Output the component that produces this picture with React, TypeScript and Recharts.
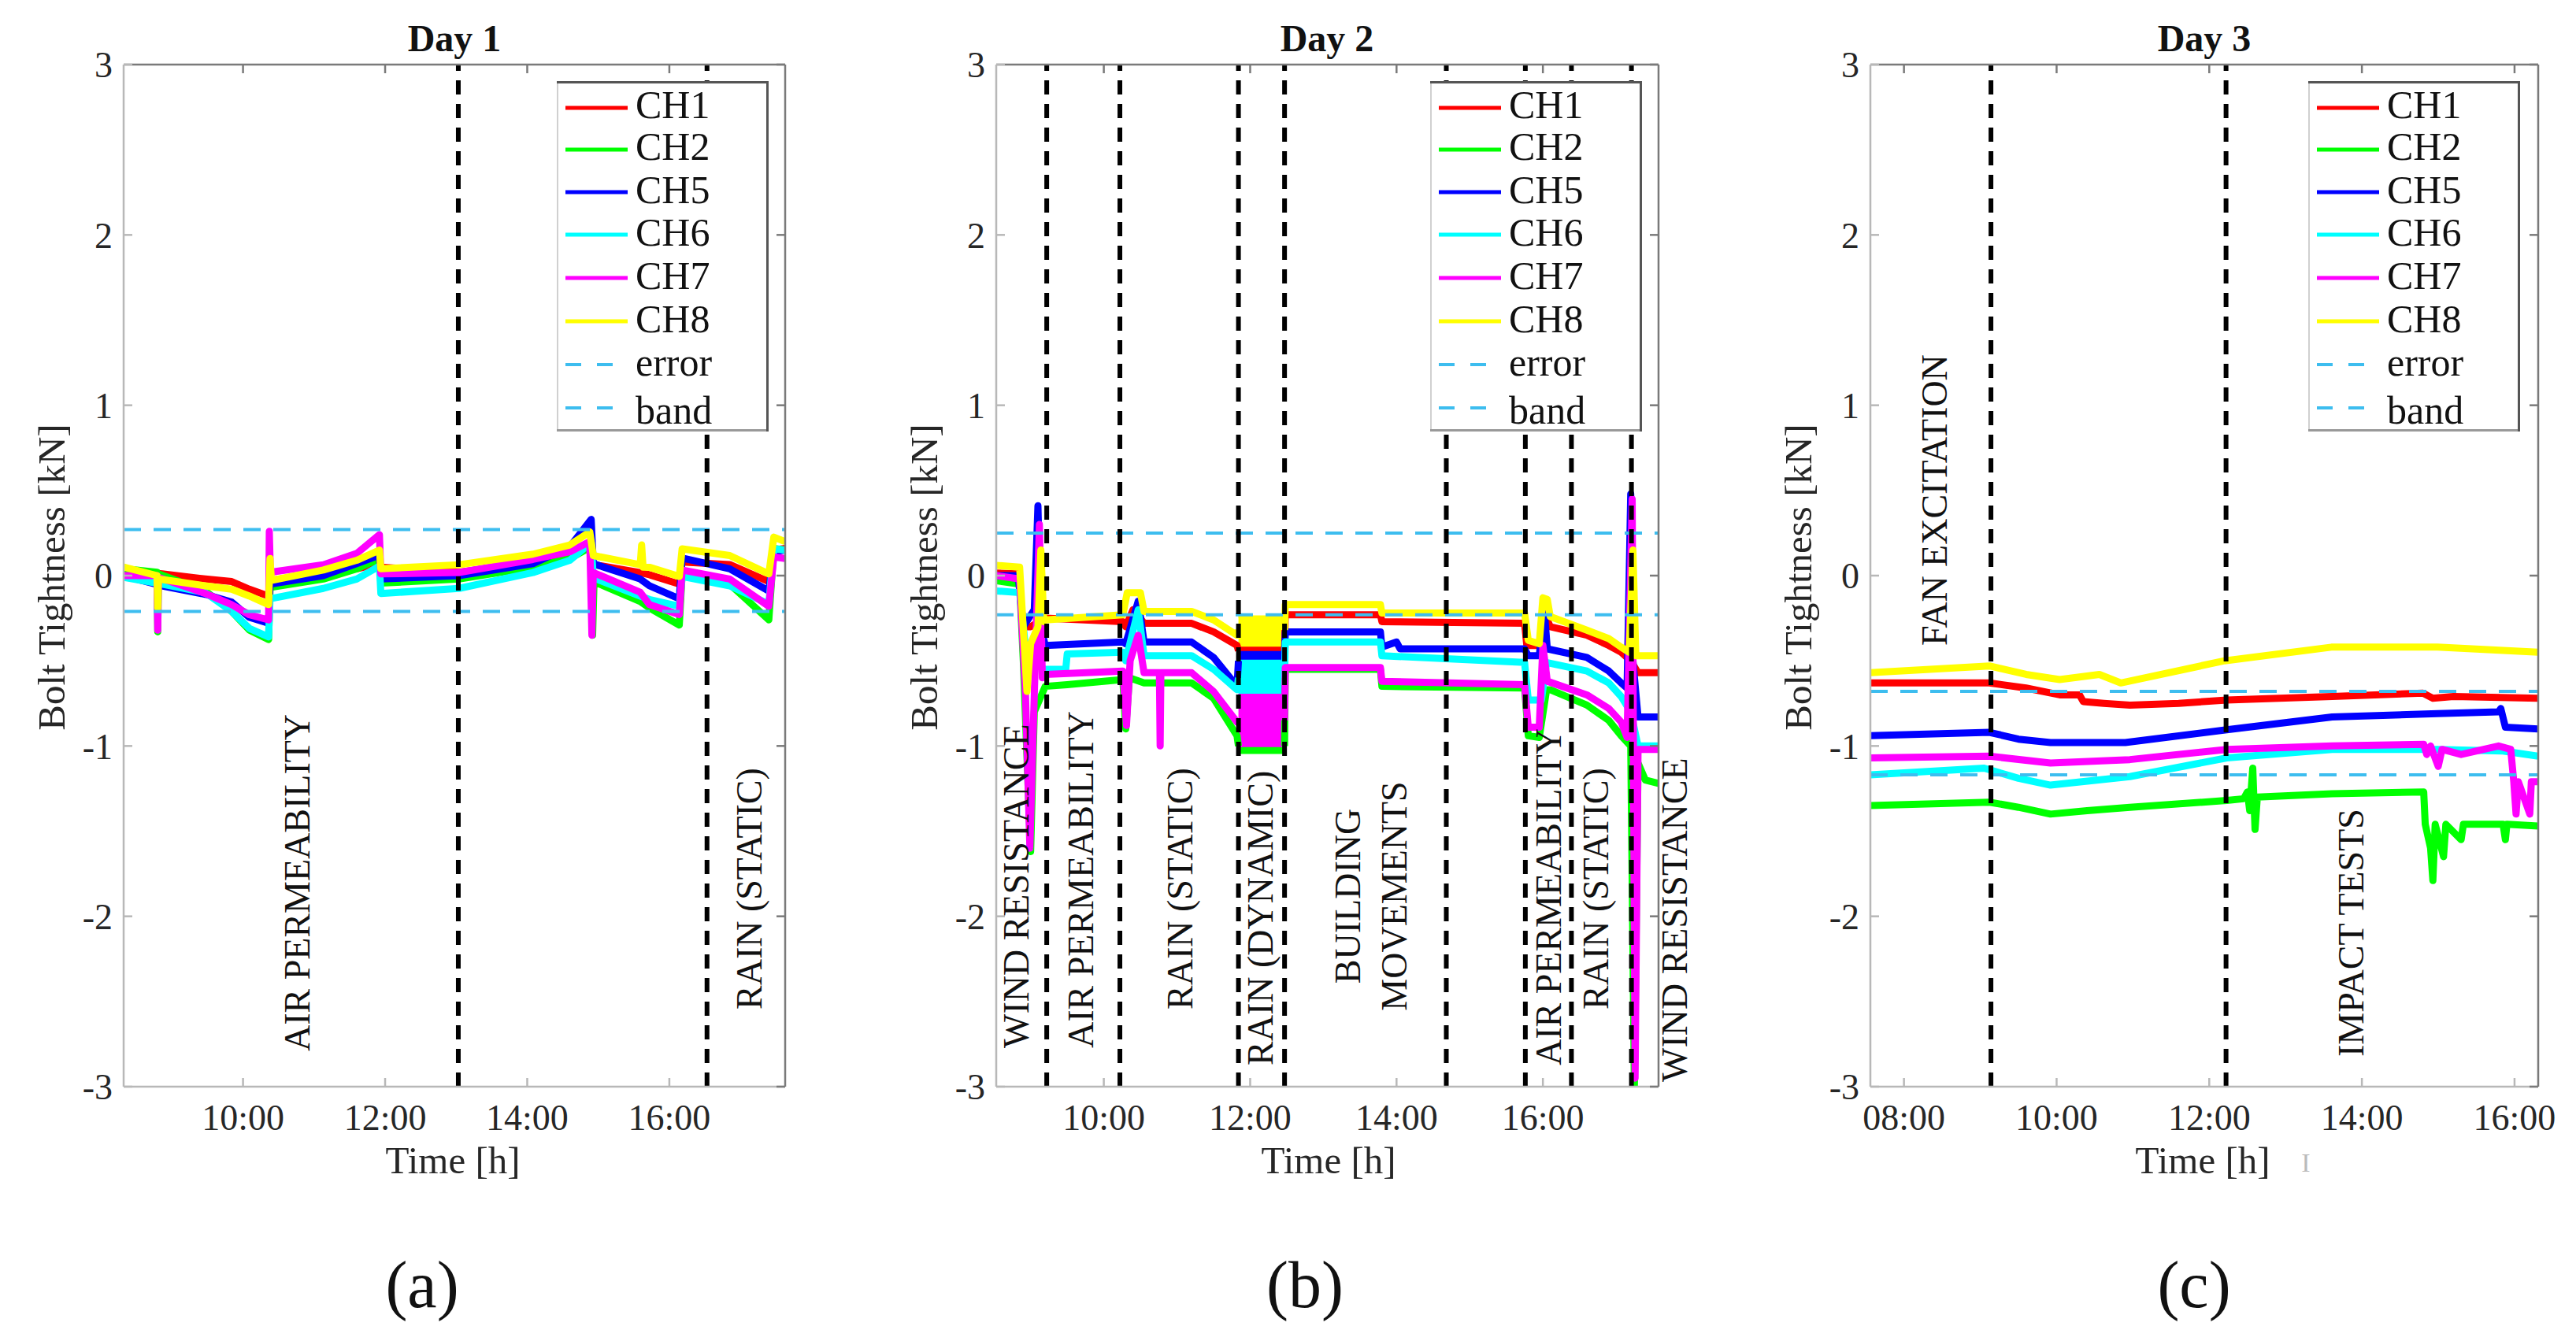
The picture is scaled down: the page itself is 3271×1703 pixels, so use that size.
import React from 'react';
import { ComposedChart, Line, Area, XAxis, YAxis, ReferenceLine, Legend } from 'recharts';

type P = [number, number | null];

const FONT = '"Liberation Serif", "DejaVu Serif", serif';

// ---------- labels ----------
const CHANNELS = ['CH1', 'CH2', 'CH5', 'CH6', 'CH7', 'CH8'];
const CH_COLORS = ['#FF0000', '#00FF00', '#0000FF', '#00FFFF', '#FF00FF', '#FFFF00'];
const BAND_LABELS = ['error', 'band'];
const Y_TICKS = [-3, -2, -1, 0, 1, 2, 3];
const DAY_TITLES = ['Day 1', 'Day 2', 'Day 3'];
const CAPTIONS = ['(a)', '(b)', '(c)'];
const Y_LABEL = 'Bolt Tightness [kN]';
const X_LABEL = 'Time [h]';

// ---------- Day 1 ----------
const DAY1_RANGE: [number, number] = [8.32, 17.63];
const DAY1_TICKS = [10, 12, 14, 16];
const DAY1_BAND = [0.27, -0.21];
const DAY1_MARKERS = [13.03, 16.53];
const d1CH1: P[] = [[8.32, 0.03], [8.86, 0.01], [9.47, -0.02], [9.84, -0.035], [10.09, -0.08], [10.36, -0.12], [10.38, -0.03], [11.13, 0.02], [11.6, 0.04], [11.92, 0.07], [11.94, 0.05], [13.04, 0.02], [14.08, 0.08], [14.6, 0.13], [14.9, 0.17], [14.93, 0.065], [15.59, 0.018], [15.72, 0.005], [16.14, -0.05], [16.18, 0.08], [16.85, 0.065], [17.4, -0.035], [17.47, 0.15], [17.63, 0.16]];
const d1CH2: P[] = [[8.32, 0.04], [8.79, 0.02], [8.8, -0.33], [8.81, 0.01], [9.47, -0.09], [9.84, -0.21], [10.09, -0.32], [10.36, -0.375], [10.38, -0.07], [11.13, -0.02], [11.6, 0.04], [11.92, 0.1], [11.94, -0.044], [13.04, -0.02], [14.08, 0.05], [14.6, 0.1], [14.9, 0.17], [14.92, -0.35], [14.94, -0.036], [15.59, -0.152], [15.72, -0.19], [16.14, -0.29], [16.18, 0.01], [16.85, -0.05], [17.4, -0.26], [17.47, 0.16], [17.63, 0.15]];
const d1CH5: P[] = [[8.32, 0.0], [8.86, -0.06], [9.47, -0.11], [9.84, -0.155], [10.09, -0.245], [10.36, -0.28], [10.38, -0.05], [11.13, 0.0], [11.6, 0.07], [11.92, 0.12], [11.94, -0.02], [13.04, 0.0], [14.08, 0.07], [14.6, 0.17], [14.9, 0.33], [14.93, 0.07], [15.59, -0.02], [15.72, -0.06], [16.14, -0.136], [16.18, 0.103], [16.85, 0.04], [17.4, -0.09], [17.47, 0.14], [17.63, 0.15]];
const d1CH6: P[] = [[8.32, -0.01], [8.86, -0.05], [9.47, -0.1], [9.84, -0.21], [10.09, -0.31], [10.36, -0.36], [10.38, -0.136], [11.13, -0.075], [11.6, -0.02], [11.92, 0.056], [11.94, -0.105], [13.04, -0.075], [14.08, 0.018], [14.6, 0.09], [14.9, 0.195], [14.93, -0.013], [15.59, -0.12], [15.72, -0.14], [16.14, -0.18], [16.18, -0.005], [16.85, -0.06], [17.4, -0.167], [17.47, 0.157], [17.63, 0.15]];
const d1CH7: P[] = [[8.32, 0.0], [8.79, 0.0], [8.8, -0.32], [8.81, -0.01], [9.47, -0.105], [9.84, -0.17], [10.09, -0.23], [10.36, -0.26], [10.37, 0.26], [10.385, 0.02], [11.13, 0.064], [11.6, 0.13], [11.92, 0.24], [11.94, 0.01], [13.04, 0.018], [14.08, 0.095], [14.6, 0.14], [14.88, 0.2], [14.91, -0.35], [14.93, 0.018], [15.59, -0.098], [15.72, -0.17], [16.14, -0.229], [16.18, 0.033], [16.85, -0.02], [17.4, -0.18], [17.47, 0.11], [17.63, 0.1]];
const d1CH8: P[] = [[8.32, 0.05], [8.79, 0.0], [8.8, -0.19], [8.81, -0.02], [9.47, -0.06], [9.84, -0.08], [10.09, -0.12], [10.36, -0.17], [10.38, 0.1], [10.4, -0.028], [11.13, 0.033], [11.6, 0.09], [11.92, 0.15], [11.94, 0.04], [13.04, 0.064], [14.08, 0.126], [14.6, 0.18], [14.88, 0.257], [14.93, 0.118], [15.59, 0.064], [15.61, 0.18], [15.63, 0.05], [15.72, 0.049], [16.14, -0.005], [16.18, 0.157], [16.85, 0.118], [17.4, 0.01], [17.47, 0.226], [17.63, 0.2]];

// ---------- Day 2 ----------
const DAY2_RANGE: [number, number] = [8.53, 17.58];
const DAY2_TICKS = [10, 12, 14, 16];
const DAY2_BAND = [0.25, -0.23];
const DAY2_MARKERS = [9.22, 10.22, 11.84, 12.47, 14.68, 15.76, 16.39, 17.21];
const d2CH1: P[] = [[8.53, 0.015], [8.83, 0.01], [8.9, -0.3], [9.0, -0.3], [9.2, -0.25], [10.26, -0.27], [10.3, -0.3], [10.4, -0.2], [10.5, -0.25], [10.55, -0.28], [11.2, -0.28], [11.5, -0.33], [11.82, -0.41], [11.84, -0.44], [12.0, null], [12.47, -0.44], [12.48, -0.23], [13.78, -0.23], [13.8, -0.27], [15.75, -0.28], [15.78, -0.41], [15.95, -0.41], [16.05, -0.25], [16.1, -0.3], [16.6, -0.35], [16.9, -0.41], [17.07, -0.45], [17.2, -0.5], [17.3, -0.57], [17.58, -0.57]];
const d2CH2: P[] = [[8.53, -0.03], [8.85, -0.05], [8.9, -0.5], [9.0, -1.62], [9.05, -0.8], [9.2, -0.65], [9.5, -0.64], [10.26, -0.61], [10.3, -0.9], [10.35, -0.6], [10.55, -0.63], [11.2, -0.63], [11.5, -0.72], [11.82, -0.94], [11.84, -1.0], [12.0, null], [12.47, -1.0], [12.48, -0.55], [13.78, -0.55], [13.8, -0.65], [15.75, -0.66], [15.8, -0.94], [15.95, -0.95], [16.05, -0.67], [16.1, -0.67], [16.6, -0.76], [16.9, -0.85], [17.07, -0.94], [17.2, -1.0], [17.25, -3.0], [17.3, -1.1], [17.4, -1.2], [17.58, -1.22]];
const d2CH5: P[] = [[8.53, 0.0], [8.83, 0.0], [8.9, -0.3], [9.05, -0.2], [9.1, 0.41], [9.14, -0.3], [9.2, -0.41], [10.26, -0.39], [10.3, -0.4], [10.47, -0.15], [10.55, -0.39], [11.2, -0.39], [11.5, -0.48], [11.82, -0.65], [11.84, -0.5], [12.0, null], [12.47, -0.5], [12.48, -0.33], [13.78, -0.33], [13.8, -0.42], [14.0, -0.39], [14.05, -0.43], [15.75, -0.43], [15.8, -0.47], [15.95, -0.47], [16.02, -0.21], [16.06, -0.43], [16.6, -0.48], [16.9, -0.56], [17.07, -0.63], [17.15, -0.66], [17.2, 0.48], [17.23, -0.5], [17.3, -0.83], [17.58, -0.83]];
const d2CH6: P[] = [[8.53, -0.09], [8.85, -0.1], [8.95, -0.5], [9.2, -0.55], [9.48, -0.55], [9.5, -0.46], [10.26, -0.45], [10.3, -0.5], [10.47, -0.2], [10.55, -0.47], [11.2, -0.47], [11.5, -0.55], [11.82, -0.67], [11.84, -0.6], [12.0, null], [12.47, -0.6], [12.48, -0.39], [13.78, -0.39], [13.8, -0.47], [15.75, -0.51], [15.8, -0.73], [15.98, -0.73], [16.05, -0.51], [16.6, -0.56], [16.9, -0.63], [17.07, -0.71], [17.2, -0.8], [17.3, -1.0], [17.58, -1.0]];
const d2CH7: P[] = [[8.53, 0.0], [8.85, -0.02], [8.93, -0.7], [8.99, -1.6], [9.05, -0.7], [9.12, 0.3], [9.16, -0.6], [9.2, -0.58], [10.26, -0.56], [10.31, -0.88], [10.36, -0.5], [10.47, -0.35], [10.55, -0.57], [10.76, -0.57], [10.77, -1.0], [10.78, -0.57], [11.2, -0.57], [11.5, -0.68], [11.82, -0.86], [11.84, -0.85], [12.0, null], [12.47, -0.85], [12.48, -0.54], [13.78, -0.54], [13.8, -0.62], [15.75, -0.64], [15.8, -0.89], [15.95, -0.89], [16.0, -0.41], [16.06, -0.62], [16.6, -0.7], [16.9, -0.78], [17.07, -0.86], [17.15, -0.95], [17.22, 0.45], [17.26, -2.95], [17.3, -1.02], [17.58, -1.02]];
const d2CH8: P[] = [[8.53, 0.06], [8.85, 0.05], [8.95, -0.68], [9.0, -0.4], [9.1, -0.3], [9.14, 0.15], [9.18, -0.27], [9.2, -0.26], [10.26, -0.23], [10.32, -0.1], [10.5, -0.1], [10.55, -0.21], [11.2, -0.21], [11.5, -0.26], [11.82, -0.35], [11.84, -0.32], [12.0, null], [12.47, -0.32], [12.48, -0.17], [13.78, -0.17], [13.8, -0.22], [15.75, -0.22], [15.8, -0.38], [15.95, -0.4], [16.0, -0.13], [16.06, -0.14], [16.1, -0.24], [16.6, -0.32], [16.9, -0.37], [17.07, -0.42], [17.18, -0.45], [17.23, 0.15], [17.27, -0.47], [17.58, -0.47]];
// RAIN (DYNAMIC) block: noisy envelope [low, high] per channel
const DAY2_BLOCK_T = [11.84, 12.47];
const d2BlockCH1 = [-0.47, -0.41];
const d2BlockCH2 = [-1.04, -0.99];
const d2BlockCH5 = [-0.53, -0.45];
const d2BlockCH6 = [-0.7, -0.5];
const d2BlockCH7 = [-1.0, -0.7];
const d2BlockCH8 = [-0.41, -0.24];

// ---------- Day 3 ----------
const DAY3_RANGE: [number, number] = [7.56, 16.31];
const DAY3_TICKS = [8, 10, 12, 14, 16];
const DAY3_BAND = [-0.68, -1.17];
const DAY3_MARKERS = [9.14, 12.22];
const d3CH1: P[] = [[7.56, -0.63], [9.12, -0.63], [9.6, -0.66], [10.04, -0.7], [10.3, -0.7], [10.35, -0.74], [10.62, -0.75], [10.96, -0.76], [11.6, -0.75], [12.23, -0.73], [13.61, -0.71], [14.8, -0.69], [14.93, -0.72], [15.2, -0.71], [16.31, -0.72]];
const d3CH2: P[] = [[7.56, -1.35], [9.12, -1.33], [9.5, -1.36], [9.92, -1.4], [10.4, -1.38], [10.96, -1.36], [12.23, -1.32], [12.45, -1.31], [12.5, -1.27], [12.53, -1.38], [12.57, -1.13], [12.6, -1.49], [12.63, -1.3], [13.61, -1.28], [14.81, -1.27], [14.83, -1.46], [14.9, -1.6], [14.93, -1.79], [14.96, -1.46], [15.07, -1.65], [15.1, -1.46], [15.3, -1.55], [15.33, -1.46], [15.85, -1.46], [15.88, -1.55], [15.9, -1.46], [16.31, -1.47]];
const d3CH5: P[] = [[7.56, -0.94], [9.12, -0.92], [9.5, -0.96], [9.92, -0.98], [10.9, -0.98], [12.23, -0.905], [13.61, -0.83], [14.99, -0.81], [15.79, -0.8], [15.82, -0.78], [15.88, -0.89], [16.31, -0.9]];
const d3CH6: P[] = [[7.56, -1.17], [9.05, -1.13], [9.5, -1.19], [9.92, -1.23], [10.96, -1.18], [12.23, -1.07], [13.61, -1.02], [14.99, -1.02], [15.85, -1.03], [16.31, -1.06]];
const d3CH7: P[] = [[7.56, -1.07], [9.12, -1.06], [9.92, -1.1], [10.96, -1.08], [12.23, -1.02], [13.61, -1.0], [14.81, -0.99], [14.85, -1.05], [14.9, -1.0], [15.0, -1.12], [15.05, -1.02], [15.3, -1.05], [15.79, -1.0], [15.95, -1.02], [15.99, -1.21], [16.02, -1.4], [16.05, -1.21], [16.2, -1.4], [16.22, -1.21], [16.31, -1.21]];
const d3CH8: P[] = [[7.56, -0.57], [9.12, -0.53], [9.6, -0.58], [10.04, -0.61], [10.56, -0.58], [10.84, -0.63], [12.2, -0.5], [13.6, -0.42], [14.99, -0.42], [16.31, -0.45]];

// ---------- layout (positions / styles) ----------
const PAGE_W = 3271;
const PAGE_H = 1703;
const PLOT_TOP = 82;
const PLOT_BOTTOM = 1380;
const Y_AXIS_W = 60;
const X_AXIS_H = 30;
const LEFT_PAD = 97;
const RIGHT_PAD = 20;
const LEG_W = 269;
const LEG_H = 445;
const LEG_TOP = 103;
const LEG_LINE_Y = [34, 87, 141, 195, 250, 305, 360, 415];
const LEG_TEXT_Y = [47, 100, 155, 209, 264, 319, 374, 435];

const PANELS = [
  { title: DAY_TITLES[0], caption: CAPTIONS[0], plotLeft: 157, plotRight: 997, range: DAY1_RANGE, ticks: DAY1_TICKS, series: [d1CH1, d1CH2, d1CH5, d1CH6, d1CH7, d1CH8], blocks: null, bands: DAY1_BAND, markers: DAY1_MARKERS, legendLeft: 707, titleX: 577, timeX: 575, captionX: 536 },
  { title: DAY_TITLES[1], caption: CAPTIONS[1], plotLeft: 1265, plotRight: 2106, range: DAY2_RANGE, ticks: DAY2_TICKS, series: [d2CH1, d2CH2, d2CH5, d2CH6, d2CH7, d2CH8], blocks: [d2BlockCH1, d2BlockCH2, d2BlockCH5, d2BlockCH6, d2BlockCH7, d2BlockCH8], bands: DAY2_BAND, markers: DAY2_MARKERS, legendLeft: 1816, titleX: 1685, timeX: 1687, captionX: 1657 },
  { title: DAY_TITLES[2], caption: CAPTIONS[2], plotLeft: 2375, plotRight: 3223, range: DAY3_RANGE, ticks: DAY3_TICKS, series: [d3CH1, d3CH2, d3CH5, d3CH6, d3CH7, d3CH8], blocks: null, bands: DAY3_BAND, markers: DAY3_MARKERS, legendLeft: 2931, titleX: 2799, timeX: 2797, captionX: 2786 },
];

// rotated annotation text: [text, baseline x, start y (bottom), anchor]
const ANNOTATIONS: [string, number, number, string][] = [
  ['AIR PERMEABILITY', 393, 1335, 'start'],
  ['RAIN (STATIC)', 967, 1282, 'start'],
  ['WIND RESISTANCE', 1306, 1331, 'start'],
  ['AIR PERMEABILITY', 1388, 1331, 'start'],
  ['RAIN (STATIC)', 1514, 1282, 'start'],
  ['RAIN (DYNAMIC)', 1616, 1353, 'start'],
  ['BUILDING', 1727, 1138, 'middle'],
  ['MOVEMENTS', 1786, 1138, 'middle'],
  ['AIR PERMEABILITY', 1982, 1353, 'start'],
  ['RAIN (STATIC)', 2042, 1282, 'start'],
  ['WIND RESISTANCE', 2142, 1374, 'start'],
  ['FAN EXCITATION', 2472, 820, 'start'],
  ['IMPACT TESTS', 3001, 1342, 'start'],
];

const FRAME_LIGHT = '#b8b8b8';
const FRAME_DARK = '#7a7a7a';
const BAND_COLOR = '#3DBDEF';

const fmtHour = (h: number) => `${h < 10 ? '0' : ''}${h}:00`;
const blank = () => '';
const toPts = (arr: P[]) => arr.map(([t, v]) => ({ t, v }));

function LegendBox() {
  return (
    <svg width={LEG_W} height={LEG_H} style={{ display: 'block' }}>
      <rect x={0} y={0} width={LEG_W} height={LEG_H} fill="#ffffff" />
      <line x1={1} y1={1} x2={1} y2={LEG_H - 1} stroke="#d0d0d0" strokeWidth={2} />
      <line x1={0} y1={LEG_H - 1.5} x2={LEG_W} y2={LEG_H - 1.5} stroke="#999999" strokeWidth={3} />
      <line x1={0} y1={1.5} x2={LEG_W} y2={1.5} stroke="#555555" strokeWidth={3} />
      <line x1={LEG_W - 1.5} y1={0} x2={LEG_W - 1.5} y2={LEG_H} stroke="#555555" strokeWidth={3} />
      {CHANNELS.map((name, i) => (
        <g key={name}>
          <line x1={11} y1={LEG_LINE_Y[i]} x2={90} y2={LEG_LINE_Y[i]} stroke={CH_COLORS[i]} strokeWidth={5} />
          <text x={100} y={LEG_TEXT_Y[i]} fontSize={50} fontFamily={FONT} fill="#111">{name}</text>
        </g>
      ))}
      {BAND_LABELS.map((name, j) => (
        <g key={name}>
          <line x1={11} y1={LEG_LINE_Y[6 + j]} x2={71} y2={LEG_LINE_Y[6 + j]} stroke={BAND_COLOR} strokeWidth={4} strokeDasharray="20 20" />
          <text x={100} y={LEG_TEXT_Y[6 + j]} fontSize={50} fontFamily={FONT} fill="#111">{name}</text>
        </g>
      ))}
    </svg>
  );
}

function Panel({ cfg }: { cfg: any }) {
  const chartLeft = cfg.plotLeft - LEFT_PAD - Y_AXIS_W;
  const width = cfg.plotRight - cfg.plotLeft + LEFT_PAD + Y_AXIS_W * 2 + RIGHT_PAD;
  const tickStyle = { fontSize: 46, fill: '#262626', fontFamily: FONT };
  return (
    <div style={{ position: 'absolute', left: chartLeft, top: 0 }}>
      <ComposedChart
        width={width}
        height={PAGE_H}
        margin={{ top: PLOT_TOP - X_AXIS_H, right: RIGHT_PAD, bottom: PAGE_H - PLOT_BOTTOM - X_AXIS_H, left: LEFT_PAD }}
      >
        <XAxis
          type="number"
          dataKey="t"
          domain={cfg.range}
          ticks={cfg.ticks}
          interval={0}
          allowDataOverflow
          tickFormatter={fmtHour}
          height={X_AXIS_H}
          tickSize={-11}
          tickMargin={33}
          axisLine={{ stroke: FRAME_LIGHT, strokeWidth: 2.5 }}
          tickLine={{ stroke: FRAME_LIGHT, strokeWidth: 2.5 }}
          tick={tickStyle}
        />
        <XAxis
          xAxisId="top"
          orientation="top"
          type="number"
          dataKey="t"
          domain={cfg.range}
          ticks={cfg.ticks}
          interval={0}
          allowDataOverflow
          tickFormatter={blank}
          height={X_AXIS_H}
          tickSize={-11}
          axisLine={{ stroke: FRAME_DARK, strokeWidth: 2.5 }}
          tickLine={{ stroke: FRAME_DARK, strokeWidth: 2.5 }}
        />
        <YAxis
          type="number"
          domain={[-3, 3]}
          ticks={Y_TICKS}
          interval={0}
          allowDataOverflow
          width={Y_AXIS_W}
          tickSize={-11}
          tickMargin={25}
          axisLine={{ stroke: FRAME_LIGHT, strokeWidth: 2.5 }}
          tickLine={{ stroke: FRAME_LIGHT, strokeWidth: 2.5 }}
          tick={tickStyle}
        />
        <YAxis
          yAxisId="right"
          orientation="right"
          type="number"
          domain={[-3, 3]}
          ticks={Y_TICKS}
          interval={0}
          allowDataOverflow
          width={Y_AXIS_W}
          tickFormatter={blank}
          tickSize={-11}
          axisLine={{ stroke: FRAME_DARK, strokeWidth: 2.5 }}
          tickLine={{ stroke: FRAME_DARK, strokeWidth: 2.5 }}
        />
        {cfg.blocks &&
          cfg.blocks.map((rng: number[], i: number) => (
            <Area
              key={'blk' + i}
              data={DAY2_BLOCK_T.map((t) => ({ t, r: rng }))}
              dataKey="r"
              type="linear"
              stroke={CH_COLORS[i]}
              strokeWidth={3}
              fill={CH_COLORS[i]}
              fillOpacity={1}
              dot={false}
              activeDot={false}
              isAnimationActive={false}
            />
          ))}
        {cfg.series.map((pts: P[], i: number) => (
          <Line
            key={CHANNELS[i]}
            name={CHANNELS[i]}
            data={toPts(pts)}
            dataKey="v"
            type="linear"
            stroke={CH_COLORS[i]}
            strokeWidth={9}
            strokeLinejoin="round"
            dot={false}
            activeDot={false}
            connectNulls={false}
            isAnimationActive={false}
          />
        ))}
        {cfg.bands.map((b: number, i: number) => (
          <ReferenceLine key={'band' + i} y={b} stroke={BAND_COLOR} strokeWidth={4} strokeDasharray="22 16" zIndex={450} />
        ))}
        {cfg.markers.map((m: number, i: number) => (
          <ReferenceLine key={'mk' + i} x={m} stroke="#000000" strokeWidth={6} strokeDasharray="18 12" zIndex={460} />
        ))}
        <Legend
          layout="horizontal"
          verticalAlign="middle"
          align="center"
          content={() => <LegendBox />}
          wrapperStyle={{ position: 'absolute', left: cfg.legendLeft - chartLeft, top: LEG_TOP, width: LEG_W, height: LEG_H, margin: 0, padding: 0, lineHeight: 0 }}
        />
      </ComposedChart>
    </div>
  );
}

export default function App() {
  return (
    <div style={{ position: 'absolute', left: 0, top: 0, width: PAGE_W, height: PAGE_H, background: '#ffffff', overflow: 'hidden' }}>
      {PANELS.map((cfg) => (
        <Panel key={cfg.title} cfg={cfg} />
      ))}
      <svg width={PAGE_W} height={PAGE_H} style={{ position: 'absolute', left: 0, top: 0, pointerEvents: 'none' }} fontFamily={FONT}>
        {PANELS.map((cfg) => (
          <g key={'t' + cfg.title}>
            <text x={cfg.titleX} y={65} fontSize={48} fontWeight="bold" textAnchor="middle" fill="#111">{cfg.title}</text>
            <text transform={`translate(${cfg.plotLeft - 75},733) rotate(-90)`} fontSize={49} textAnchor="middle" fill="#262626">{Y_LABEL}</text>
            <text x={cfg.timeX} y={1490} fontSize={49} textAnchor="middle" fill="#262626">{X_LABEL}</text>
            <text x={cfg.captionX} y={1660} fontSize={84} textAnchor="middle" fill="#111">{cfg.caption}</text>
          </g>
        ))}
        <text x={2928} y={1488} fontSize={34} textAnchor="middle" fill="#bbbbbb">I</text>
        {ANNOTATIONS.map(([txt, x, y, anchor], i) => (
          <text key={'an' + i} transform={`translate(${x},${y}) rotate(-90)`} fontSize={46} textAnchor={anchor} fill="#111">{txt}</text>
        ))}
      </svg>
    </div>
  );
}
